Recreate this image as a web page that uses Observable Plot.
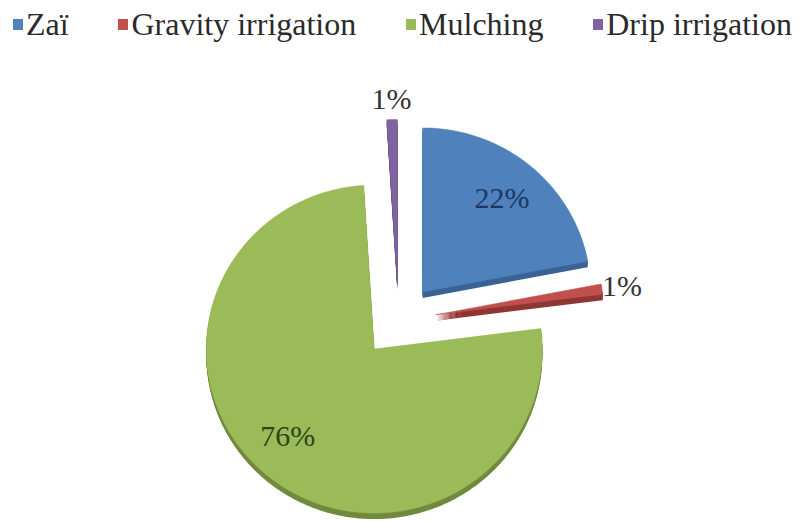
<!DOCTYPE html>
<html>
<head>
<meta charset="utf-8">
<script src="https://cdn.jsdelivr.net/npm/d3@7"></script>
<script src="https://cdn.jsdelivr.net/npm/@observablehq/plot@0.6"></script>
<style>
  html, body { margin: 0; padding: 0; background: #fff; }
  #wrap { width: 800px; height: 521px; overflow: hidden; position: relative; }
  #legend { height: 45px; display: flex; justify-content: space-between; align-items: center;
            padding: 3px 8px 0 13px; box-sizing: border-box; font-family: "Liberation Serif", "Times New Roman", serif;
            font-size: 32px; color: #2a2a2a; }
  #legend .item { display: flex; align-items: center; white-space: nowrap; }
  #legend .sw { width: 10px; height: 11px; margin-right: 3px; }
  #chart svg { display: block; }
</style>
</head>
<body>
<div id="wrap">
  <div id="legend"></div>
  <div id="chart"></div>
</div>
<script>
// ---- data ----
const categories = ["Zaï", "Gravity irrigation", "Mulching", "Drip irrigation"];
const shares = [22, 1, 76, 1];
const labels = ["22%", "1%", "76%", "1%"];

// ---- styles ----
const colors = ["#4F81BD", "#C0504D", "#9BBB59", "#8064A2"];
const sideColors = ["#3a6394", "#8e3633", "#6f8a3c", "#5a4577"];
const labelColors = ["#1b3763", "#333333", "#2c4514", "#333333"];

// ---- layout ----
const W = 800, H = 476;
const cx = 398, cy = 275, rx = 168, ry = 164, explode = 38, depth = 6;

// legend
const legend = document.getElementById("legend");
categories.forEach((c, i) => {
  const it = document.createElement("div");
  it.className = "item";
  const sw = document.createElement("span");
  sw.className = "sw";
  sw.style.background = colors[i];
  const tx = document.createElement("span");
  tx.textContent = c;
  it.appendChild(sw); it.appendChild(tx);
  legend.appendChild(it);
});

// slices
const arcs = d3.pie().sort(null).value(d => d)(shares);
const k = ry / rx;
const slices = arcs.map((a, i) => {
  const mid = (a.startAngle + a.endAngle) / 2;
  const vx = cx + explode * Math.sin(mid);
  const vy = cy - explode * k * Math.cos(mid);
  const n = Math.max(4, Math.ceil((a.endAngle - a.startAngle) / 0.01));
  const ring = [[vx, vy]];
  for (let j = 0; j <= n; j++) {
    const t = a.startAngle + (a.endAngle - a.startAngle) * j / n;
    ring.push([vx + rx * Math.sin(t), vy - ry * Math.cos(t)]);
  }
  ring.push([vx, vy]);
  const inside = shares[i] >= 5;
  const f = inside ? 0.74 : 1.12;
  const lm = inside && mid > Math.PI ? mid + 0.08 : mid;
  return {
    i, ring, mid,
    lx: vx + f * rx * Math.sin(lm),
    ly: vy - f * ry * Math.cos(lm)
  };
});

const sideMarks = slices.map(s => {
  const pts = [];
  for (let d = 1; d <= depth; d++) s.ring.forEach(([x, y]) => pts.push({x, y: y + d, layer: d}));
  return Plot.line(pts, {x: "x", y: "y", z: "layer", fill: sideColors[s.i], stroke: "none"});
});
const topMarks = slices.map(s =>
  Plot.line(s.ring.map(([x, y]) => ({x, y})), {x: "x", y: "y", fill: colors[s.i], stroke: colors[s.i], strokeWidth: 0.5})
);
const labelMark = Plot.text(slices, {
  x: "lx", y: "ly", text: d => labels[d.i], fill: d => labelColors[d.i],
  fontSize: 30, fontFamily: "Liberation Serif", textAnchor: "middle", lineAnchor: "middle"
});

const chart = Plot.plot({
  width: W, height: H,
  margin: 0,
  x: {domain: [0, W], range: [0, W], axis: null},
  y: {domain: [0, H], range: [0, H], axis: null},
  style: {background: "transparent", overflow: "visible"},
  marks: [...sideMarks, ...topMarks, labelMark]
});
document.getElementById("chart").appendChild(chart);
</script>
</body>
</html>
